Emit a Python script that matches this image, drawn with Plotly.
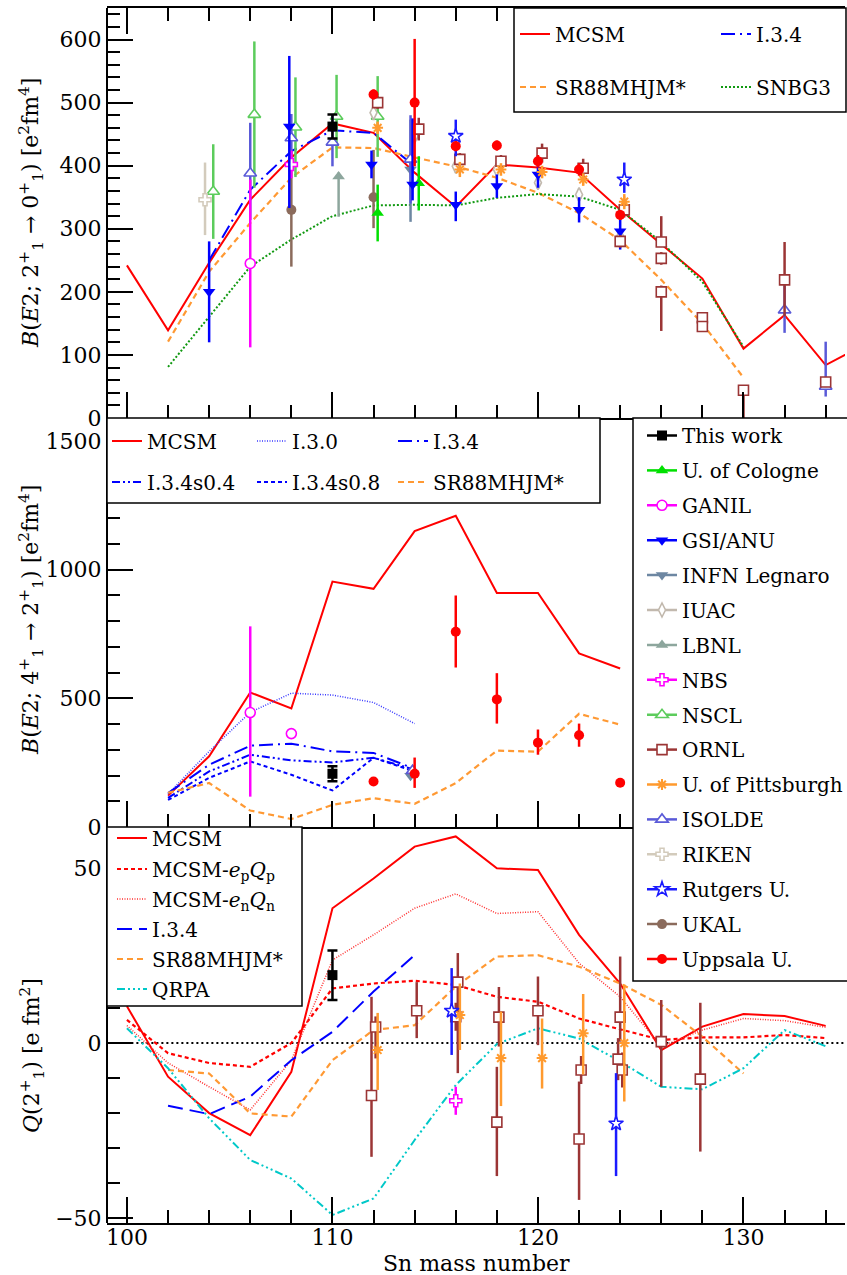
import plotly.graph_objects as go

FONT = "DejaVu Serif"

# ---------------------------------------------------------------------------
# Calculations
# ---------------------------------------------------------------------------
# B(E2; 2+_1 -> 0+_1)  [e^2 fm^4]
BE2_21_MCSM_A = [100, 102, 104, 106, 108, 110, 112, 114, 116, 118, 120, 122, 124, 126, 128, 130, 132, 134, 136]
BE2_21_MCSM = [242, 139, 246, 346, 413, 467, 452, 389, 335, 402, 397, 389, 330, 275, 221, 110, 163, 84, 118]
BE2_21_I34_A = [104, 106, 108, 110, 112, 114]
BE2_21_I34 = [250, 362, 423, 456, 452, 399]
BE2_21_SR88_A = [102, 104, 106, 108, 110, 112, 114, 116, 118, 120, 122, 124, 126, 128, 130]
BE2_21_SR88 = [121, 232, 309, 381, 429, 428, 413, 399, 381, 357, 325, 282, 219, 150, 64]
BE2_21_SNBG3_A = [102, 104, 106, 108, 110, 112, 114, 116, 118, 120, 122, 124, 126, 128, 130]
BE2_21_SNBG3 = [81, 160, 240, 283, 320, 337, 338, 337, 349, 355, 351, 330, 279, 216, 113]

# B(E2; 4+_1 -> 2+_1)  [e^2 fm^4]
BE2_42_MCSM_A = [102, 104, 106, 108, 110, 112, 114, 116, 118, 120, 122, 124]
BE2_42_MCSM = [122, 275, 523, 461, 954, 926, 1150, 1210, 910, 910, 675, 616]
BE2_42_IX_A = [102, 104, 106, 108, 110, 112, 114]
BE2_42_I30 = [128, 294, 446, 520, 513, 484, 402]
BE2_42_I34 = [132, 242, 316, 324, 294, 288, 226]
BE2_42_I34S04 = [113, 216, 281, 259, 251, 269, 223]
BE2_42_I34S08 = [105, 191, 255, 203, 142, 269, 216]
BE2_42_SR88_A = [102, 104, 106, 108, 110, 112, 114, 116, 118, 120, 122, 124]
BE2_42_SR88 = [133, 171, 64, 31, 86, 112, 90, 171, 297, 293, 440, 398]

# Q(2+_1)  [e fm^2]
Q_A = [100, 102, 104, 106, 108, 110, 112, 114, 116, 118, 120, 122, 124, 126, 128, 130, 132, 134]
Q_MCSM = [10.5, -9.6, -20, -26.3, -8.2, 38.5, 47, 56.1, 59, 49.9, 49.4, 30.9, 17, -2, 4.7, 8.3, 7.7, 4.9]
Q_MCSM_P = [6.6, -2.9, -5.7, -6.8, 0, 15.6, 17, 17.8, 16.6, 13.2, 11.8, 7, 3.9, 0.9, 1.6, 1.6, 2.3, 1.4]
Q_MCSM_N = [5, -5.7, -12.5, -19.1, -4.9, 23.7, 30.9, 38.5, 42.6, 37, 37.5, 22.8, 13.2, -1, 3.7, 7, 6.4, 4.5]
Q_QRPA = [4.2, -7.2, -21.5, -33.4, -38.7, -49.1, -44.4, -27.7, -12, -0.3, 4.2, 1.3, -5.3, -12.5, -13.2, -7.2, 3.7, -0.9]
Q_I34_A = [102, 104, 106, 108, 110, 112, 114]
Q_I34 = [-17.9, -20.3, -15.3, -4.9, 3.2, 14.7, 25.1]
Q_SR88_A = [102, 104, 106, 108, 110, 112, 114, 116, 118, 120, 122, 124, 126, 128, 130]
Q_SR88 = [-7.7, -8.7, -20.1, -21, -4.9, 3.7, 5.1, 16.1, 24.7, 25.1, 21.8, 17, 10.9, 1.8, -8.7]

# ---------------------------------------------------------------------------
# Measurements: (A, value, error down, error up)
# ---------------------------------------------------------------------------
BE2_21_THIS_WORK = [(110, 462, 19, 19)]
BE2_21_COLOGNE = [(112.2, 325, 45, 45), (114.2, 372, 43, 43)]
BE2_21_GANIL = [(106, 245, 133, 133)]
BE2_21_GSI_ANU = [(104, 200, 80, 80), (107.9, 462, 129, 112), (111.9, 402, 22, 22), (113.9, 370, 25, 105),
                  (116, 338, 26, 21), (118, 368, 19, 18), (120, 386, 21, 21), (122, 330, 20, 20), (124, 296, 29, 29)]
BE2_21_INFN = [(113.8, 394, 83, 79)]
BE2_21_IUAC = [(112, 484, 12, 12), (114, 447, 12, 12), (116, 399, 10, 10), (118, 394, 10, 10),
               (120, 373, 10, 10), (122, 354, 10, 10), (124, 288, 10, 10)]
BE2_21_LBNL = [(110.3, 383, 64, 6)]
BE2_21_NBS = [(108, 402, 22, 22)]
BE2_21_NSCL = [(104.2, 359, 75, 75), (106.2, 481, 116, 116), (108.2, 461, 79, 79), (110.2, 478, 66, 66),
               (112.2, 478, 64, 64)]
BE2_21_ORNL = [(112.2, 500, 10, 10), (114.2, 458, 18, 18), (116.2, 410, 10, 10), (118.2, 407, 10, 10),
               (120.2, 420, 15, 15), (122.2, 396, 15, 15), (124.2, 330, 12, 12), (124, 280, 10, 10),
               (126, 279, 8, 41), (126, 253, 10, 10), (126, 200, 62, 10), (128, 159, 8, 8), (128, 145, 8, 8),
               (130, 44, 44, 5), (132, 219, 58, 60), (134, 57, 8, 8)]
BE2_21_PITTSBURGH = [(112.2, 460, 10, 10), (116.2, 394, 12, 12), (118.2, 394, 10, 10), (120.2, 390, 10, 10),
                     (122.2, 378, 10, 10), (124.2, 343, 12, 12)]
BE2_21_ISOLDE = [(106, 388, 74, 80), (108, 444, 38, 38), (110, 437, 38, 44), (113.8, 410, 70, 70),
                 (132, 171, 36, 39), (134, 50, 16, 71)]
BE2_21_RIKEN = [(103.8, 346, 56, 59)]
BE2_21_RUTGERS = [(116, 447, 32, 26), (124.2, 378, 21, 27)]
BE2_21_UKAL = [(108, 330, 90, 93), (112, 350, 49, 75)]
BE2_21_UPPSALA = [(112, 513, 8, 8), (114, 500, 101, 101), (116, 431, 8, 8), (118, 432, 8, 8),
                  (120, 407, 10, 10), (122, 394, 10, 10), (124, 322, 8, 8)]

BE2_42_THIS_WORK = [(110, 207, 29, 29)]
BE2_42_GANIL = [(106, 445, 327, 335), (108, 363, 8, 8)]
BE2_42_INFN = [(113.8, 199, 8, 8)]
BE2_42_ISOLDE = [(113.9, 219, 10, 10)]
BE2_42_UPPSALA = [(112, 177, 15, 15), (114, 207, 55, 63), (116, 759, 139, 141), (118, 496, 94, 102),
                  (120, 328, 47, 51), (122, 357, 45, 45), (124, 172, 8, 8)]

Q_THIS_WORK = [(110, 19.4, 7.1, 7.0)]
Q_NBS = [(116, -16.5, 4, 4)]
Q_ORNL = [(112.1, 4.6, 9, 3), (111.9, -15, 17.5, 28.2), (114.1, 9.2, 7.8, 8.2), (116.1, 17.4, 26, 8.3),
          (116.0, 7.5, 4, 4), (118.1, 7.4, 8.4, 8.6), (118.0, -22.6, 15.4, 15.8), (120.0, 9.2, 9.8, 9.8),
          (122.1, -7.7, 4, 4), (122.0, -27.4, 17.4, 16.4), (124.0, 7.4, 7, 17.3), (123.9, -4.6, 6, 6),
          (124.1, -7.7, 5, 5), (126.0, 0.4, 12.9, 11.9), (127.9, -10.3, 20.7, 21.8)]
Q_PITTSBURGH = [(112.2, -2, 11.4, 10.6), (116.2, 8, 10, 9), (118.2, -4.3, 13.7, 13.3), (120.2, -4.3, 8.7, 11.3),
                (122.2, 2.8, 11.8, 11.2), (124.2, 0, 16.7, 16.7)]
Q_RUTGERS = [(115.8, 9.2, 12.6, 12.2), (123.8, -23, 15, 14.4)]

GROUP_NAMES = ["This work", "U. of Cologne", "GANIL", "GSI/ANU", "INFN Legnaro", "IUAC", "LBNL", "NBS",
               "NSCL", "ORNL", "U. of Pittsburgh", "ISOLDE", "RIKEN", "Rutgers U.", "UKAL", "Uppsala U."]

# ---------------------------------------------------------------------------
# Page geometry (pixels) and styles
# ---------------------------------------------------------------------------
W, H = 847, 1275
ML, MR, MT, MB = 107, 2, 8, 52
PW, PH = W - ML - MR, H - MT - MB
TICK_SIZE = 22
LEG_SIZE = 20
TITLE_SIZE = 22


def fx(px):
    return (px - ML) / PW


def fy(py):
    return (H - MB - py) / PH


Y_TOP_BOTTOM = fy(418)
Y_MID_BOTTOM = fy(827)

STYLE = {
    "This work": dict(color="#000000", symbol="square", fill="#000000", size=10, cap=5),
    "U. of Cologne": dict(color="#00e000", symbol="triangle-up", fill="#00e000", size=11),
    "GANIL": dict(color="#ff00ff", symbol="circle", fill="white", size=10),
    "GSI/ANU": dict(color="#0000ff", symbol="triangle-down", fill="#0000ff", size=11),
    "INFN Legnaro": dict(color="#6d87a2", symbol="triangle-down", fill="#6d87a2", size=11),
    "IUAC": dict(color="#c2b9ae", symbol="diamond-tall", fill="white", size=10),
    "LBNL": dict(color="#8da69d", symbol="triangle-up", fill="#8da69d", size=11),
    "NBS": dict(color="#ff00ff", symbol="cross", fill="white", size=10),
    "NSCL": dict(color="#5ccc5c", symbol="triangle-up", fill="white", size=11),
    "ORNL": dict(color="#9b3535", symbol="square", fill="white", size=10),
    "U. of Pittsburgh": dict(color="#ff9a2e", symbol="asterisk-open", fill="#ff9a2e", size=9),
    "ISOLDE": dict(color="#5a5ad8", symbol="triangle-up", fill="white", size=11),
    "RIKEN": dict(color="#d3cbbc", symbol="cross", fill="white", size=10),
    "Rutgers U.": dict(color="#1a1aff", symbol="star", fill="white", size=11),
    "UKAL": dict(color="#8b6b5c", symbol="circle", fill="#8b6b5c", size=10),
    "Uppsala U.": dict(color="#ff0000", symbol="circle", fill="#ff0000", size=10),
}

RED = "#ff0000"
BLUE = "#0000ff"
ORANGE = "#ff9933"
GREEN = "#119911"
CYAN = "#00c8c8"

PANEL = {"top": ("x", "y"), "mid": ("x2", "y2"), "bot": ("x3", "y3")}

fig = go.Figure()
legends = {}


def new_legend(px, py):
    n = len(legends) + 1
    key = "legend" if n == 1 else "legend%d" % n
    legends[key] = dict(x=fx(px), y=fy(py), xanchor="left", yanchor="middle",
                        bgcolor="rgba(0,0,0,0)", borderwidth=0,
                        font=dict(family=FONT, size=LEG_SIZE, color="black"))
    return key


def curve(a, v, name, line, panel, leg):
    xa, ya = PANEL[panel]
    fig.add_trace(go.Scatter(x=a, y=v, mode="lines", name=name, line=line, xaxis=xa, yaxis=ya,
                             legend=new_legend(*leg), showlegend=True, hoverinfo="skip"))


def marker_of(st):
    lw = 2 if st["symbol"] == "asterisk-open" else (1.6 if st["fill"] == "white" else 0)
    return dict(symbol=st["symbol"], size=st["size"], color=st["fill"],
                line=dict(color=st["color"], width=lw))


def points(rows, group, panel):
    if not rows:
        return
    st = STYLE[group]
    a, v, lo, hi = zip(*rows)
    xa, ya = PANEL[panel]
    fig.add_trace(go.Scatter(
        x=list(a), y=list(v), mode="markers", name=group, xaxis=xa, yaxis=ya, showlegend=False,
        marker=marker_of(st),
        error_y=dict(type="data", symmetric=False, array=list(hi), arrayminus=list(lo),
                     color=st["color"], thickness=2.5, width=st.get("cap", 0))))


# ---- calculations: top panel
curve(BE2_21_MCSM_A, BE2_21_MCSM, "MCSM", dict(color=RED, width=2), "top", (515, 34))
curve(BE2_21_SR88_A, BE2_21_SR88, "SR88MHJM*", dict(color=ORANGE, width=2.2, dash="6px,4px"), "top", (515, 87))
curve(BE2_21_I34_A, BE2_21_I34, "I.3.4", dict(color=BLUE, width=2, dash="14px,5px,2px,5px"), "top", (716, 34))
curve(BE2_21_SNBG3_A, BE2_21_SNBG3, "SNBG3", dict(color=GREEN, width=2, dash="2px,2px"), "top", (716, 87))

# ---- calculations: middle panel
curve(BE2_42_MCSM_A, BE2_42_MCSM, "MCSM", dict(color=RED, width=2), "mid", (107, 441))
curve(BE2_42_IX_A, BE2_42_I34S04, "I.3.4s0.4", dict(color=BLUE, width=2, dash="8px,3px,2px,3px,2px,3px"), "mid", (107, 482))
curve(BE2_42_IX_A, BE2_42_I30, "I.3.0", dict(color="#3a3aff", width=1.5, dash="1px,1.5px"), "mid", (252, 441))
curve(BE2_42_IX_A, BE2_42_I34S08, "I.3.4s0.8", dict(color=BLUE, width=2, dash="4px,3px"), "mid", (252, 482))
curve(BE2_42_IX_A, BE2_42_I34, "I.3.4", dict(color=BLUE, width=2, dash="14px,5px,2px,5px"), "mid", (393, 441))
curve(BE2_42_SR88_A, BE2_42_SR88, "SR88MHJM*", dict(color=ORANGE, width=2.2, dash="6px,4px"), "mid", (393, 482))

# ---- calculations: bottom panel
curve(Q_A, Q_MCSM, "MCSM", dict(color=RED, width=2), "bot", (112, 838))
curve(Q_A, Q_MCSM_P, "MCSM-<i>e</i><sub>p</sub><i>Q</i><sub>p</sub>",
      dict(color=RED, width=2.2, dash="4px,3px"), "bot", (112, 869))
curve(Q_A, Q_MCSM_N, "MCSM-<i>e</i><sub>n</sub><i>Q</i><sub>n</sub>",
      dict(color="#ff3030", width=1.5, dash="1px,1.5px"), "bot", (112, 899))
curve(Q_I34_A, Q_I34, "I.3.4", dict(color=BLUE, width=2, dash="15px,7px"), "bot", (112, 929))
curve(Q_SR88_A, Q_SR88, "SR88MHJM*", dict(color=ORANGE, width=2.2, dash="6px,4px"), "bot", (112, 959))
curve(Q_A, Q_QRPA, "QRPA", dict(color=CYAN, width=2, dash="8px,3px,2px,3px,2px,3px,2px,3px"), "bot", (112, 989))

# ---- measurements
points(BE2_21_NSCL, "NSCL", "top")
points(BE2_21_RIKEN, "RIKEN", "top")
points(BE2_21_IUAC, "IUAC", "top")
points(BE2_21_LBNL, "LBNL", "top")
points(BE2_21_INFN, "INFN Legnaro", "top")
points(BE2_21_ISOLDE, "ISOLDE", "top")
points(BE2_21_UKAL, "UKAL", "top")
points(BE2_21_NBS, "NBS", "top")
points(BE2_21_GANIL, "GANIL", "top")
points(BE2_21_COLOGNE, "U. of Cologne", "top")
points(BE2_21_GSI_ANU, "GSI/ANU", "top")
points(BE2_21_ORNL, "ORNL", "top")
points(BE2_21_PITTSBURGH, "U. of Pittsburgh", "top")
points(BE2_21_RUTGERS, "Rutgers U.", "top")
points(BE2_21_UPPSALA, "Uppsala U.", "top")
points(BE2_21_THIS_WORK, "This work", "top")

points(BE2_42_GANIL, "GANIL", "mid")
points(BE2_42_INFN, "INFN Legnaro", "mid")
points(BE2_42_ISOLDE, "ISOLDE", "mid")
points(BE2_42_UPPSALA, "Uppsala U.", "mid")
points(BE2_42_THIS_WORK, "This work", "mid")

points(Q_ORNL, "ORNL", "bot")
points(Q_PITTSBURGH, "U. of Pittsburgh", "bot")
points(Q_RUTGERS, "Rutgers U.", "bot")
points(Q_NBS, "NBS", "bot")
points(Q_THIS_WORK, "This work", "bot")

# ---- legend entries for the measurement groups (line + marker sample)
for i, g in enumerate(GROUP_NAMES):
    st = STYLE[g]
    fig.add_trace(go.Scatter(x=[None], y=[None], mode="lines+markers", name=g, xaxis="x", yaxis="y",
                             line=dict(color=st["color"], width=2.5), marker=marker_of(st),
                             legend=new_legend(642, 435.5 + 34.9 * i), showlegend=True))


# ---------------------------------------------------------------------------
# Axes, frames and labels
# ---------------------------------------------------------------------------
def xaxis(anchor, labels, mirror):
    ax = dict(range=[99.03, 134.94], anchor=anchor, domain=[0, 1], tick0=100, dtick=10,
              ticks="inside", ticklen=26, tickwidth=1.5, tickcolor="black",
              minor=dict(ticks="inside", tick0=100, dtick=2, ticklen=13, tickwidth=1.5, tickcolor="black"),
              showline=True, linecolor="black", linewidth=2, mirror=mirror,
              showgrid=False, zeroline=False, showticklabels=labels,
              tickfont=dict(family=FONT, size=TICK_SIZE, color="black"))
    if labels:
        ax["ticklabelstandoff"] = -6
    return ax


def yaxis(dom, rng, major, minor):
    return dict(domain=dom, range=rng, tick0=0, dtick=major, anchor="free", position=0,
                ticks="inside", ticklen=25, tickwidth=1.5, tickcolor="black",
                minor=dict(ticks="inside", tick0=0, dtick=minor, ticklen=12, tickwidth=1.5, tickcolor="black"),
                showline=True, linecolor="black", linewidth=2, showgrid=False, zeroline=False,
                tickfont=dict(family=FONT, size=TICK_SIZE, color="black"))


def box(x0, y0, x1, y1):
    return dict(type="rect", xref="paper", yref="paper", x0=fx(x0), x1=fx(x1), y0=fy(y1), y1=fy(y0),
                fillcolor="white", line=dict(color="black", width=1.5), layer="above")


shapes = [
    dict(type="line", xref="x3", yref="y3", x0=99, x1=135, y0=0, y1=0,
         line=dict(color="black", width=2, dash="2px,3px"), layer="below"),
    box(514, 8, 846, 112),
    box(107, 418, 600, 503),
    box(633, 418, 848, 981),
    box(107, 827, 302, 1006),
]

annotations = [
    dict(text="<i>B</i>(<i>E</i>2; 2<sup>+</sup><sub>1</sub> → 0<sup>+</sup><sub>1</sub>) [e<sup>2</sup>fm<sup>4</sup>]",
         xref="paper", yref="paper", x=fx(31), y=fy(213), textangle=-90, showarrow=False,
         xanchor="center", yanchor="middle", font=dict(family=FONT, size=TITLE_SIZE, color="black")),
    dict(text="<i>B</i>(<i>E</i>2; 4<sup>+</sup><sub>1</sub> → 2<sup>+</sup><sub>1</sub>) [e<sup>2</sup>fm<sup>4</sup>]",
         xref="paper", yref="paper", x=fx(31), y=fy(620), textangle=-90, showarrow=False,
         xanchor="center", yanchor="middle", font=dict(family=FONT, size=TITLE_SIZE, color="black")),
    dict(text="<i>Q</i>(2<sup>+</sup><sub>1</sub>) [e fm<sup>2</sup>]",
         xref="paper", yref="paper", x=fx(32), y=fy(1056), textangle=-90, showarrow=False,
         xanchor="center", yanchor="middle", font=dict(family=FONT, size=TITLE_SIZE, color="black")),
    dict(text="Sn mass number", xref="paper", yref="paper", x=fx(476), y=fy(1263), showarrow=False,
         xanchor="center", yanchor="middle", font=dict(family=FONT, size=TITLE_SIZE, color="black")),
]

fig.update_layout(
    width=W, height=H,
    margin=dict(l=ML, r=MR, t=MT, b=MB, autoexpand=False),
    paper_bgcolor="white", plot_bgcolor="white",
    font=dict(family=FONT, size=TICK_SIZE, color="black"),
    xaxis=xaxis("y", False, "allticks"),
    xaxis2=xaxis("y2", False, False),
    xaxis3=xaxis("y3", True, False),
    yaxis=yaxis([Y_TOP_BOTTOM, 1], [0, 650], 100, 20),
    yaxis2=yaxis([Y_MID_BOTTOM, Y_TOP_BOTTOM], [0, 1590], 500, 100),
    yaxis3=yaxis([0, Y_MID_BOTTOM], [-51.4, 61.7], 50, 10),
    shapes=shapes,
    annotations=annotations,
    **legends,
)

fig.write_html("out.html")
